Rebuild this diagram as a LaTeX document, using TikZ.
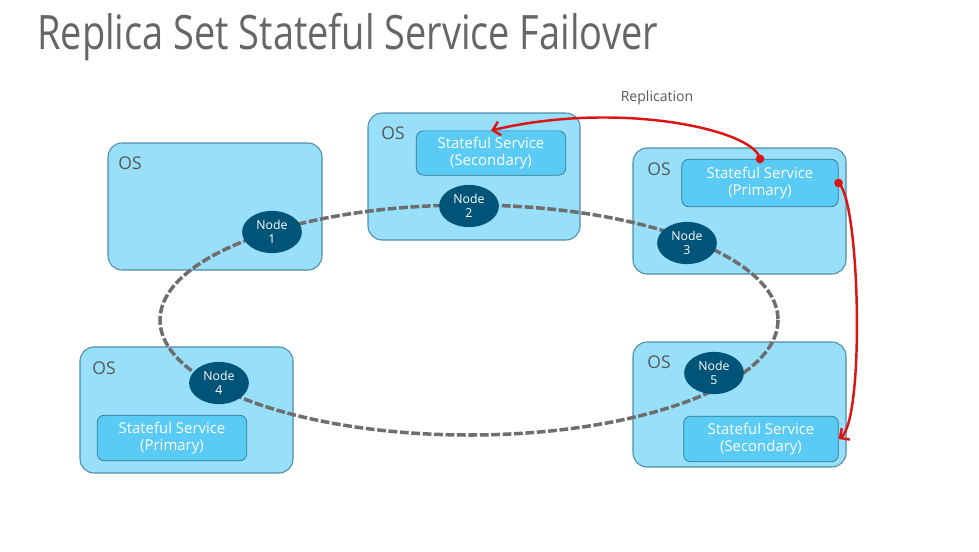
\documentclass[tikz,border=0pt]{standalone}
\usepackage{fontspec}
\setmainfont{Open Sans}
\usetikzlibrary{shapes.geometric,arrows.meta}
\definecolor{hostfill}{RGB}{152,223,250}
\definecolor{hostline}{RGB}{80,140,170}
\definecolor{svcfill}{RGB}{90,203,245}
\definecolor{nodefill}{RGB}{0,84,120}
\definecolor{ringgray}{RGB}{110,110,110}
\definecolor{repred}{RGB}{220,20,20}
\begin{document}
\begin{tikzpicture}[x=0.02cm,y=-0.02cm,
  host/.style={draw=hostline,fill=hostfill,rounded corners=8pt,line width=0.6pt},
  svc/.style={draw=nodefill!80,fill=svcfill,rounded corners=4pt,text=white,align=center,font=\fontsize{8.5}{10}\selectfont},
  hostlabel/.style={text=gray!70!black,font=\fontsize{10}{12}\selectfont},
  srvnode/.style={ellipse,fill=nodefill,text=white,align=center,minimum width=34pt,minimum height=24pt,inner sep=0pt,font=\fontsize{7}{8}\selectfont},
  rep/.style={draw=repred,line width=1.4pt}]
\useasboundingbox (0,0) rectangle (979,551);
\node[anchor=west,text=gray!80!black,font=\fontsize{27}{30}\selectfont,xscale=0.8,inner sep=0pt] (title) at (37,37) {Replica Set Stateful Service Failover};
% hosts
\draw[host] (108,143) rectangle (322,270);
\draw[host] (368,113) rectangle (580,240);
\draw[host] (633,148) rectangle (846,274);
\draw[host] (80,347) rectangle (293,473);
\draw[host] (633,342) rectangle (846,467);
\node[hostlabel] (os1) at (130,163) {OS};
\node[hostlabel] (os2) at (393,133) {OS};
\node[hostlabel] (os3) at (659,169) {OS};
\node[hostlabel] (os4) at (104,368) {OS};
\node[hostlabel] (os5) at (659,362) {OS};
% ring
\draw[ringgray,line width=2pt,dash pattern=on 5pt off 1.5pt] (469,320) ellipse (309 and 115);
% services
\node[svc,minimum width=85pt,minimum height=25pt] (sec2) at (491,153) {Stateful Service\\(Secondary)};
\node[svc,minimum width=89pt,minimum height=27pt] (pri3) at (760,183) {Stateful Service\\(Primary)};
\node[svc,minimum width=85pt,minimum height=26pt] (pri4) at (172,438) {Stateful Service\\(Primary)};
\node[svc,minimum width=88pt,minimum height=26pt] (sec5) at (761,439) {Stateful Service\\(Secondary)};
% nodes
\node[srvnode] (n1) at (272,232) {Node\\1};
\node[srvnode] (n2) at (469,206) {Node\\2};
\node[srvnode] (n3) at (687,243) {Node\\3};
\node[srvnode] (n4) at (219,383) {Node\\4};
\node[srvnode] (n5) at (714,373) {Node\\5};
% replication
\node[text=gray!70!black,font=\fontsize{8}{10}\selectfont] (replab) at (657,98) {Replication};
\fill[repred] (pri3.north) circle (2.5pt);
\draw[rep,-{Straight Barb[length=4pt]}] (pri3.north) .. controls (755,130) and (620,100) .. (sec2.north);
\fill[repred] (pri3.east) circle (2.5pt);
\draw[rep,-{Straight Barb[length=4pt]}] (pri3.east) .. controls (860,200) and (865,420) .. (sec5.east);
\end{tikzpicture}
\end{document}
